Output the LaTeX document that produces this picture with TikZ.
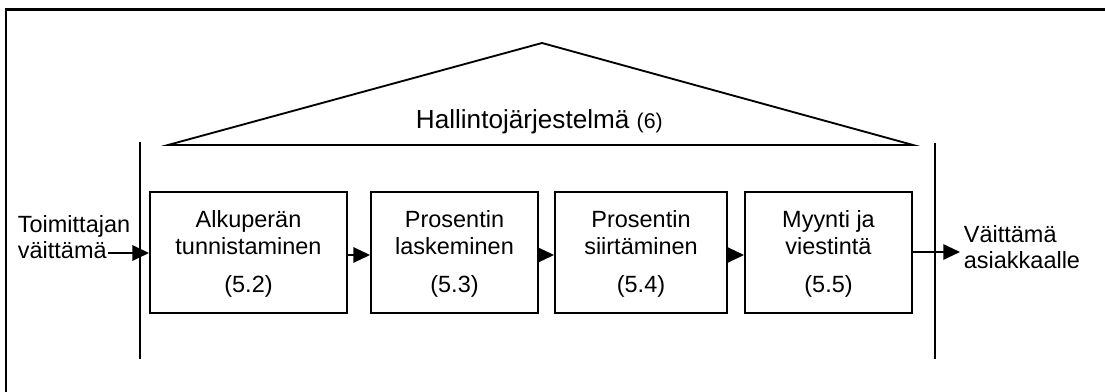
\documentclass[tikz,border=0pt]{standalone}
\usepackage{fontspec}
\setmainfont{Liberation Sans}
\usetikzlibrary{arrows.meta}
\begin{document}
\begin{tikzpicture}[x=0.75pt,y=-0.75pt,
  line width=1.4pt,
  txt/.style={font=\fontsize{17.6}{20}\selectfont, inner sep=0pt, anchor=base},
  stage/.style={draw, minimum width=0.75pt*#1, minimum height=90.75pt, inner sep=0pt},
  flow/.style={-{Triangle[length=12.5pt,width=11.5pt]}}]
\useasboundingbox (0,0) rectangle (1105,392);
% outer frame (only the top and left edges fall on the page)
\draw[line width=1.7pt] (6,392) -- (6,9.5) -- (1105,9.5);
% roof of the management system
\draw (168,145) -- (542,43) -- (913,145) -- cycle;
\node[txt, anchor=base west, font=\fontsize{19.6}{22}\selectfont] (roof) at (415,129) {Hallintojärjestelmä {\fontsize{16}{18}\selectfont(6)}};
% side walls
\draw (140,142) -- (140,359);
\draw (935,143) -- (935,359);
% process stages
\node[stage=197] (b1) at (248.5,252.5) {};
\node[stage=167] (b2) at (454.5,252.5) {};
\node[stage=172] (b3) at (641,252.5) {};
\node[stage=167] (b4) at (828.5,252.5) {};
\node[txt] (b1a) at (248.5,227) {Alkuperän};
\node[txt] (b1b) at (248.5,254) {tunnistaminen};
\node[txt] (b1c) at (248.5,292) {(5.2)};
\node[txt] (b2a) at (454.5,227) {Prosentin};
\node[txt] (b2b) at (454.5,254) {laskeminen};
\node[txt] (b2c) at (454.5,292) {(5.3)};
\node[txt] (b3a) at (641,227) {Prosentin};
\node[txt] (b3b) at (641,254) {siirtäminen};
\node[txt] (b3c) at (641,292) {(5.4)};
\node[txt] (b4a) at (828.5,227) {Myynti ja};
\node[txt] (b4b) at (828.5,254) {viestintä};
\node[txt] (b4c) at (828.5,292) {(5.5)};
% input and output
\node[txt, anchor=base west] (in1) at (17,232) {Toimittajan};
\node[txt, anchor=base west] (in2) at (17,258) {väittämä};
\node[txt, anchor=base west] (out1) at (963,242) {Väittämä};
\node[txt, anchor=base west] (out2) at (963,268) {asiakkaalle};
\coordinate (src) at (108,253);
\coordinate (dst) at (960,252);
\draw[flow] (src) -- (src -| b1.west);
\draw[flow] (b1.east |- 0,255) -- (b2.west |- 0,255);
\draw[flow] (b2.east |- 0,255) -- (b3.west |- 0,255);
\draw[flow] (b3.east |- 0,255) -- (b4.west |- 0,255);
\draw[flow] (b4.east |- dst) -- (dst);
\end{tikzpicture}
\end{document}
